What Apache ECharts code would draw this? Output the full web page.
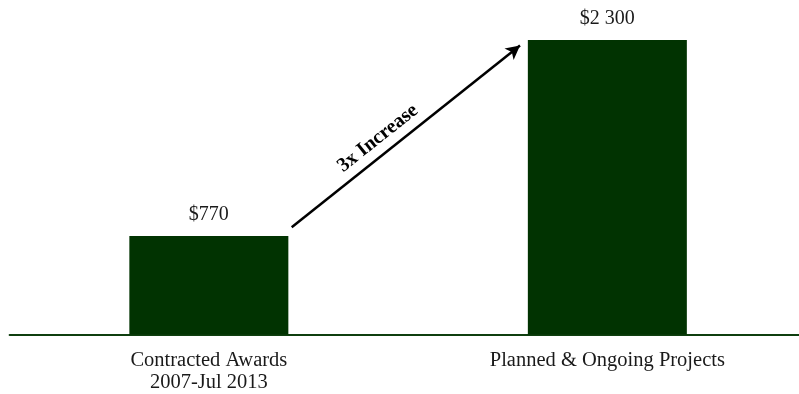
<!DOCTYPE html>
<html><head><meta charset="utf-8">
<script src="https://cdn.jsdelivr.net/npm/echarts@6/dist/echarts.min.js"></script>
<style>html,body{margin:0;padding:0;background:#fff}#c{width:799px;height:394px}</style>
</head><body><div id="c"></div>
<script>
const categories = ['Contracted Awards\n2007-Jul 2013', 'Planned & Ongoing Projects'];
const values = [770, 2300];
const valueLabels = ['$770', '$2 300'];
const arrowText = '3x Increase';

const FONT = '"Liberation Serif", "DejaVu Serif", serif';
const chart = echarts.init(document.getElementById('c'), null, {renderer: 'canvas'});
chart.setOption({
  animation: false,
  grid: {left: 9.6, width: 797, top: 14.5, bottom: 59.5, containLabel: false, outerBoundsMode: 'none'},
  xAxis: {
    type: 'category', data: categories,
    axisLine: {lineStyle: {color: '#0f3f0f', width: 2}},
    axisTick: {show: false},
    axisLabel: {fontFamily: FONT, fontSize: 20.5, color: '#1a1a1a', margin: 15, lineHeight: 22, interval: 0}
  },
  yAxis: {type: 'value', min: 0, max: 2500, show: false, splitLine: {show: false}},
  series: [{
    type: 'bar', data: values, barWidth: 159,
    itemStyle: {color: '#013301'},
    label: {show: true, position: 'top', distance: 11, fontFamily: FONT, fontSize: 20, color: '#1a1a1a',
      formatter: p => valueLabels[p.dataIndex]},
    markLine: {
      silent: true, symbol: ['none', 'arrow'], symbolSize: [11, 14],
      lineStyle: {color: '#000', width: 2.5, type: 'solid'},
      label: {show: true, position: 'insideMiddleTop', formatter: arrowText, fontFamily: FONT,
        fontSize: 20, fontWeight: 'bold', color: '#000', distance: 6, padding: [0, 46, 0, 0]},
      data: [[{x: 291.7, y: 227.3}, {x: 520, y: 45.5}]]
    }
  }]
});
</script></body></html>
